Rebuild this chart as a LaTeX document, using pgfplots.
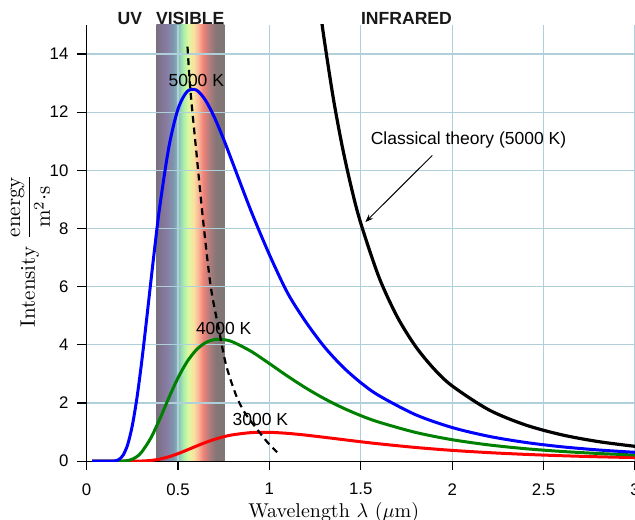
\documentclass[border=0pt]{standalone}
\usepackage{fontspec}
\usepackage{pgfplots}
\pgfplotsset{compat=1.18}
\usetikzlibrary{arrows.meta}
\newfontfamily\arial{Liberation Sans}
\definecolor{gridc}{RGB}{175,207,219}
\definecolor{vs0}{RGB}{122,112,128}
\definecolor{vs1}{RGB}{136,122,162}
\definecolor{vs2}{RGB}{125,150,175}
\definecolor{vs3}{RGB}{140,195,185}
\definecolor{vs4}{RGB}{170,240,170}
\definecolor{vs5}{RGB}{222,248,160}
\definecolor{vs6}{RGB}{250,225,160}
\definecolor{vs7}{RGB}{250,180,150}
\definecolor{vs8}{RGB}{240,130,120}
\definecolor{vs9}{RGB}{175,125,125}
\definecolor{vs10}{RGB}{132,118,118}
\definecolor{vs11}{RGB}{128,118,118}
\pgfdeclarehorizontalshading{visible}{100bp}{color(0bp)=(vs0); color(25bp)=(vs0); color(32bp)=(vs1); color(37.5bp)=(vs2); color(41.5bp)=(vs3); color(45bp)=(vs4); color(48.5bp)=(vs5); color(52.5bp)=(vs6); color(56bp)=(vs7); color(59.5bp)=(vs8); color(64bp)=(vs9); color(69bp)=(vs10); color(75bp)=(vs11); color(100bp)=(vs11)}

\pgfplotstableread{
x y
0.03 0
0.10 0
0.15 0.007
0.175 0.052
0.20 0.210
0.225 0.577
0.25 1.223
0.275 2.162
0.30 3.346
0.325 4.691
0.35 6.095
0.375 7.467
0.40 8.743
0.45 10.80
0.50 12.106
0.55 12.709
0.60 12.761
0.65 12.413
0.70 11.809
0.75 11.062
0.80 10.241
0.90 8.595
1.00 7.102
1.10 5.776
1.20 4.781
1.30 3.937
1.40 3.252
1.50 2.699
1.60 2.253
1.80 1.597
2.00 1.157
2.20 0.856
2.40 0.646
2.60 0.495
2.80 0.386
3.00 0.305
}\tblue

\pgfplotstableread{
x y
0.03 0
0.15 0
0.20 0.006
0.225 0.024
0.25 0.069
0.275 0.158
0.30 0.304
0.35 0.781
0.40 1.446
0.45 2.181
0.50 2.865
0.55 3.423
0.60 3.825
0.65 4.072
0.70 4.181
0.75 4.181
0.80 4.098
0.90 3.776
1.00 3.356
1.10 2.921
1.20 2.514
1.30 2.152
1.40 1.837
1.50 1.567
1.60 1.341
1.80 0.989
2.00 0.738
2.20 0.560
2.40 0.430
2.60 0.335
2.80 0.265
3.00 0.212
}\tgreen

\pgfplotstableread{
x y
0.03 0
0.20 0
0.25 0.001
0.30 0.006
0.35 0.025
0.40 0.072
0.45 0.152
0.50 0.260
0.55 0.386
0.60 0.517
0.65 0.642
0.70 0.751
0.75 0.840
0.80 0.908
0.90 0.983
1.00 0.992
1.10 0.957
1.20 0.896
1.30 0.822
1.40 0.745
1.50 0.668
1.60 0.597
1.80 0.472
2.00 0.372
2.20 0.295
2.40 0.235
2.60 0.188
2.80 0.152
3.00 0.124
}\tred

\pgfplotstableread{
x y
1.25 16.95
1.28 15.42
1.30 14.49
1.35 12.46
1.40 10.774
1.45 9.363
1.50 8.176
1.60 6.316
1.70 4.956
1.80 3.943
1.90 3.176
2.00 2.587
2.20 1.767
2.40 1.248
2.60 0.906
2.80 0.673
3.00 0.511
}\tclassic

\pgfplotstableread{
x y
0.552 14.25
0.568 12.74
0.601 10.59
0.637 8.30
0.679 6.01
0.726 4.45
0.765 3.26
0.820 2.23
0.865 1.67
0.920 1.20
0.984 0.69
1.042 0.31
}\twien

\begin{document}
\begin{tikzpicture}
\begin{axis}[
  set layers,
  scale only axis,
  width=274.5pt, height=218.4pt,
  xmin=0, xmax=3, ymin=0, ymax=15,
  xtick={0,0.5,1,1.5,2,2.5,3},
  ytick={0,2,4,6,8,10,12,14},
  axis x line*=bottom, axis y line*=left,
  axis line style={-, line width=0.6pt, black},
  tick align=outside,
  major tick length=4.6pt,
  tick style={line width=0.6pt, black},
  grid=major,
  major grid style={line width=0.6pt, gridc},
  clip mode=individual,
  /pgf/number format/assume math mode=true,
  ticklabel style={font=\arial\fontsize{8.4}{10}\selectfont},
  yticklabel style={xshift=-1pt},
  xticklabel style={yshift=-3pt},
]
\begin{pgfonlayer}{axis background}
\fill[shading=visible] (axis cs:0.382,0) rectangle (axis cs:0.753,15);
\end{pgfonlayer}
\addplot[black, line width=1.6pt, smooth] table[x=x,y=y] {\tclassic};
\addplot[red, line width=1.5pt, smooth] table[x=x,y=y] {\tred};
\addplot[green!50!black, line width=1.5pt, smooth] table[x=x,y=y] {\tgreen};
\addplot[blue, line width=1.5pt, smooth] table[x=x,y=y] {\tblue};
\addplot[black, line width=1.1pt, dash pattern=on 3.4pt off 2.4pt, smooth] table[x=x,y=y] {\twien};

\node[font=\arial\fontsize{8.75}{10}\selectfont] at (axis cs:0.600,13.09) {5000 K};
\node[font=\arial\fontsize{8.75}{10}\selectfont] at (axis cs:0.750,4.55) {4000 K};
\node[font=\arial\fontsize{8.75}{10}\selectfont] at (axis cs:0.951,1.43) {3000 K};
\node[font=\arial\fontsize{8.75}{10}\selectfont] at (axis cs:2.089,11.05) {Classical theory (5000 K)};
\draw[line width=0.5pt, -{Stealth[length=4pt,width=3pt]}] (axis cs:1.891,10.51) -- (axis cs:1.525,8.22);

\node[anchor=base, yshift=0.3pt, font=\arial\bfseries\fontsize{8.8}{10}\selectfont, text=black!90] at (axis cs:0.237,15) {UV};
\node[anchor=base, yshift=0.3pt, font=\arial\bfseries\fontsize{8.8}{10}\selectfont, text=black!90] at (axis cs:0.567,15) {VISIBLE};
\node[anchor=base, yshift=0.3pt, font=\arial\bfseries\fontsize{8.8}{10}\selectfont, text=black!90] at (axis cs:1.750,15) {INFRARED};

\node[anchor=base, font=\fontsize{10}{12}\selectfont] at ([yshift=-28pt]rel axis cs:0.4505,0) {Wavelength $\lambda$ ($\mu$m)};
\node[anchor=base, rotate=90, font=\fontsize{10.5}{12}\selectfont] at ([xshift=-25.85pt]rel axis cs:0,0.482) {Intensity $\displaystyle\frac{\mathrm{energy}}{\mathrm{m^2{\cdot}s}}$};

\coordinate (SW) at (rel axis cs:0,0);
\coordinate (NE) at (rel axis cs:1,1);
\end{axis}
\pgfresetboundingbox
\path[use as bounding box] ([xshift=-43.35pt,yshift=-29.15pt]SW) rectangle ([yshift=12.45pt]NE);
\end{tikzpicture}
\end{document}
